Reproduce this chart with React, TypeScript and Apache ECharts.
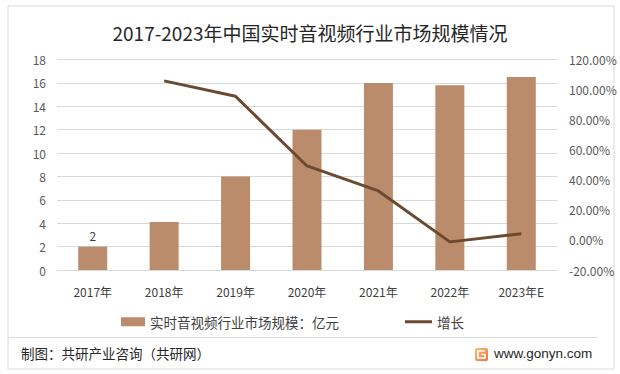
import React, { useEffect, useRef } from "react";
import * as echarts from "echarts";

const categories = ["2017年", "2018年", "2019年", "2020年", "2021年", "2022年", "2023年E"];
const marketSize = [2, 4.1, 8, 12, 16, 15.8, 16.5];
const growth: (number | null)[] = [null, 105.8, 95.5, 49.2, 32.6, -1.3, 4.1];
const leftTicks = { min: 0, max: 18, interval: 2 };
const rightTicks = { min: -20, max: 120, interval: 20 };

const barName = "实时音视频行业市场规模：亿元";
const lineName = "增长";
const FONT = "'Noto Sans CJK SC', 'Microsoft YaHei', sans-serif";

export default function App() {
  const ref = useRef<HTMLDivElement>(null);
  useEffect(() => {
    if (!ref.current) return;
    const chart = echarts.init(ref.current, undefined, { renderer: "svg" });
    chart.setOption({
      animation: false,
      backgroundColor: "#ffffff",
      textStyle: { fontFamily: FONT },
      title: {
        text: "2017-2023年中国实时音视频行业市场规模情况",
        left: "center",
        top: 18,
        textStyle: { fontSize: 19, fontWeight: "normal", color: "#262626", fontFamily: FONT },
      },
      grid: { left: 57, right: 63, top: 59.5, bottom: 104 },
      legend: [
        {
          data: [barName],
          left: 116,
          top: 310,
          itemWidth: 24,
          itemHeight: 9,
          itemGap: 4,
          icon: "rect",
          textStyle: { fontSize: 13.5, color: "#404040", fontFamily: FONT },
        },
        {
          data: [lineName],
          left: 400,
          top: 310,
          itemWidth: 27,
          itemHeight: 3,
          icon: "rect",
          textStyle: { fontSize: 13.5, color: "#404040", fontFamily: FONT },
        },
      ],
      xAxis: {
        type: "category",
        data: categories,
        axisLine: { show: true, lineStyle: { color: "#D9D9D9" } },
        axisTick: { show: false },
        axisLabel: { color: "#404040", fontSize: 12, margin: 15, interval: 0, fontFamily: FONT },
      },
      yAxis: [
        {
          type: "value",
          min: leftTicks.min,
          max: leftTicks.max,
          interval: leftTicks.interval,
          axisLine: { show: false },
          axisTick: { show: false },
          splitLine: { lineStyle: { color: "#D9D9D9", width: 1 } },
          axisLabel: { color: "#595959", fontSize: 12, margin: 11, fontFamily: FONT },
        },
        {
          type: "value",
          min: rightTicks.min,
          max: rightTicks.max,
          interval: rightTicks.interval,
          axisLine: { show: false },
          axisTick: { show: false },
          splitLine: { show: false },
          axisLabel: {
            color: "#595959",
            fontSize: 12,
            margin: 12,
            fontFamily: FONT,
            formatter: (v: number) => v.toFixed(2) + "%",
          },
        },
      ],
      series: [
        {
          name: barName,
          type: "bar",
          data: marketSize.map((v, i) =>
            i === 0
              ? { value: v, label: { show: true, position: "top", distance: 5, color: "#404040", fontSize: 12 } }
              : v
          ),
          barWidth: 29,
          itemStyle: { color: "#BA8C6B" },
        },
        {
          name: lineName,
          type: "line",
          yAxisIndex: 1,
          data: growth.map((v) => (v === null ? "-" : v)),
          showSymbol: false,
          symbol: "none",
          lineStyle: { color: "#6B4A31", width: 3 },
          itemStyle: { color: "#6B4A31" },
        },
      ],
      graphic: [
        {
          type: "rect",
          shape: { x: 8, y: 6, width: 606, height: 363 },
          style: { fill: "none", stroke: "#D9D9D9", lineWidth: 1 },
          silent: true,
        },
        {
          type: "line",
          shape: { x1: 8, y1: 337.5, x2: 597, y2: 337.5 },
          style: { stroke: "#D9D9D9", lineWidth: 1 },
          silent: true,
        },
        {
          type: "text",
          left: 21,
          top: 346,
          style: { text: "制图：共研产业咨询（共研网）", fontSize: 13.5, fill: "#262626", fontFamily: FONT },
        },
        {
          type: "rect",
          shape: { x: 475, y: 348, width: 13, height: 13, r: 2 },
          style: {
            fill: new echarts.graphic.LinearGradient(0, 0, 1, 1, [
              { offset: 0, color: "#F9C56E" },
              { offset: 1, color: "#F06A47" },
            ]),
          },
        },
        {
          type: "polyline",
          shape: { points: [[485, 351], [478, 351], [478, 358], [485, 358], [485, 354.5], [481.5, 354.5]] },
          style: { stroke: "#ffffff", lineWidth: 1.6, fill: "none" },
        },
        {
          type: "text",
          left: 494,
          top: 346,
          style: { text: "www.gonyn.com", fontSize: 13.5, fill: "#262626", fontFamily: "'Liberation Sans', Arial, sans-serif" },
        },
      ],
    });
    return () => chart.dispose();
  }, []);
  return <div ref={ref} style={{ width: 620, height: 374, position: "absolute", left: 0, top: 0 }} />;
}
